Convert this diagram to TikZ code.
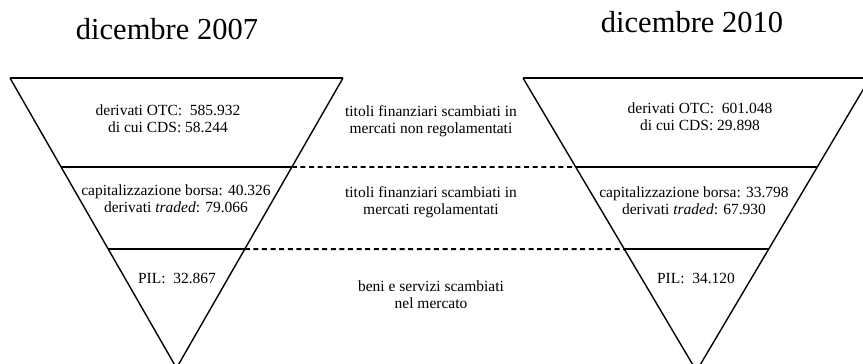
\documentclass[tikz,border=0pt]{standalone}
\usepackage{fontspec}
\setmainfont{Liberation Serif}
\usetikzlibrary{calc}
\tikzset{txt/.style={align=center,inner sep=0pt,font=\fontsize{15.5}{16.8}\selectfont}}
\tikzset{ttl/.style={inner sep=0pt,font=\fontsize{30.5}{32}\selectfont}}
\tikzset{band/.style={line width=2pt}}
\tikzset{link/.style={line width=1.8pt,dash pattern=on 5pt off 3.6pt}}

\begin{document}
\begin{tikzpicture}[x=1pt,y=-1pt,line width=1.4pt]
  \useasboundingbox (0,0) rectangle (863,364);
  \clip (0,0) rectangle (863,364);

  % dicembre 2007
  \coordinate (ltl) at (10,78);
  \coordinate (ltr) at (343,78);
  \coordinate (lap) at (176.5,368);
  \draw (ltl) -- (lap) -- (ltr);
  \draw[band] (ltl) -- (ltr);
  \coordinate (la1) at ($(ltl)!0.307!(lap)$);
  \coordinate (lb1) at ($(ltr)!0.307!(lap)$);
  \coordinate (la2) at ($(ltl)!0.59!(lap)$);
  \coordinate (lb2) at ($(ltr)!0.59!(lap)$);
  \draw[band] (la1) -- (lb1);
  \draw[band] (la2) -- (lb2);

  % dicembre 2010
  \coordinate (rtl) at (523,78);
  \coordinate (rtr) at (870,78);
  \coordinate (rap) at (696.5,371);
  \draw (rtl) -- (rap) -- (rtr);
  \draw[band] (rtl) -- (rtr);
  \coordinate (ra1) at ($(rtl)!0.304!(rap)$);
  \coordinate (rb1) at ($(rtr)!0.304!(rap)$);
  \coordinate (ra2) at ($(rtl)!0.584!(rap)$);
  \coordinate (rb2) at ($(rtr)!0.584!(rap)$);
  \draw[band] (ra1) -- (rb1);
  \draw[band] (ra2) -- (rb2);

  \draw[link] (lb1) -- (ra1);
  \draw[link] (lb2) -- (ra2);

  \node[ttl] (t07) at (167,29) {dicembre 2007};
  \node[ttl] (t10) at (692,22) {dicembre 2010};

  \node[txt] (otc07) at (168,119) {derivati OTC:\ \ 585.932\\di cui CDS: 58.244};
  \node[txt] (reg07) at (176,199) {capitalizzazione borsa: 40.326\\derivati \textit{traded}: 79.066};
  \node[txt] (pil07) at (177,278) {PIL:\ \ 32.867};

  \node[txt] (otc10) at (700,117) {derivati OTC:\ \ 601.048\\di cui CDS: 29.898};
  \node[txt] (reg10) at (694,201) {capitalizzazione borsa: 33.798\\derivati \textit{traded}: 67.930};
  \node[txt] (pil10) at (696,278) {PIL:\ \ 34.120};

  \node[txt] (nonreg) at (431,121) {titoli finanziari scambiati in\\mercati non regolamentati};
  \node[txt] (reg) at (431,202) {titoli finanziari scambiati in\\mercati regolamentati};
  \node[txt] (beni) at (431,295) {beni e servizi scambiati\\nel mercato};

\end{tikzpicture}
\end{document}
